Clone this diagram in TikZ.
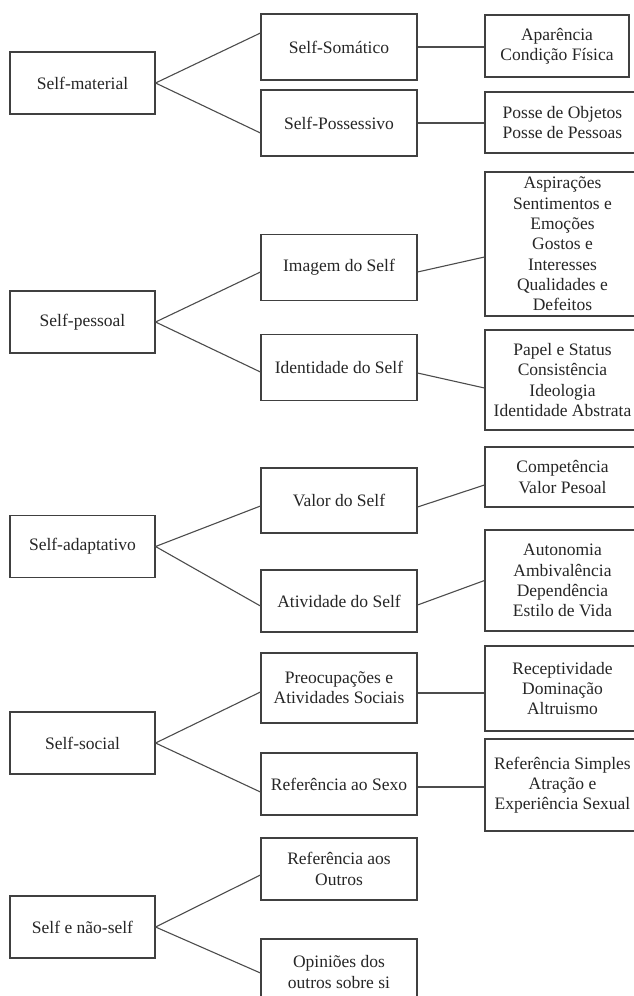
\documentclass[tikz,border=0pt]{standalone}
\usepackage{fontspec}
\setmainfont{Liberation Serif}
\usepackage{tikz}
\usetikzlibrary{calc}

\begin{document}
\begin{tikzpicture}[x=1pt,y=-1pt,
        caixa/.style={draw=black!75,line width=1.1pt,text=black!85,inner sep=0pt,align=center,font=\fontsize{17.5}{20.3}\selectfont},
        um/.style={caixa,minimum width=145,minimum height=62},
        dois/.style={caixa,minimum width=156,minimum height=66},
        tres/.style={caixa,minimum width=155},
        liga/.style={draw=black!70,line width=1.1pt}]
            \useasboundingbox (0,0) rectangle (634,996);
            \node[um] (mat) at (82.5,83) {Self-material};
            \node[um] (pes) at (82.5,322) {Self-pessoal};
            \node[um] (ada) at (82.5,546.5) {Self-adaptativo};
            \node[um] (soc) at (82.5,743) {Self-social};
            \node[um] (nao) at (82.5,927) {Self e não-self};
            \node[dois] (som) at (339,47) {Self-Somático};
            \node[dois] (pos) at (339,123) {Self-Possessivo};
            \node[dois] (ima) at (339,267.5) {Imagem do Self};
            \node[dois] (ide) at (339,367.5) {Identidade do Self};
            \node[dois,minimum height=65] (val) at (339,500.5) {Valor do Self};
            \node[dois,minimum height=62] (ati) at (339,601) {Atividade do Self};
            \node[dois,minimum height=70] (pre) at (339,688) {Preocupações e\\Atividades Sociais};
            \node[dois,minimum height=62] (sex) at (339,784) {Referência ao Sexo};
            \node[dois,minimum height=62] (out) at (339,869) {Referência aos\\Outros};
            \node[dois] (opi) at (339,972) {Opiniões dos\\outros sobre si};
            \node[tres,minimum width=144,minimum height=62] (apa) at (557,46) {Aparência\\Condição Física};
            \node[tres,minimum height=61] (obj) at (562.5,122.5) {Posse de Objetos\\Posse de Pessoas};
            \node[tres,minimum height=144] (asp) at (562.5,244) {Aspirações\\Sentimentos e\\Emoções\\Gostos e\\Interesses\\Qualidades e\\Defeitos};
            \node[tres,minimum height=100] (pap) at (562.5,380) {Papel e Status\\Consistência\\Ideologia\\Identidade Abstrata};
            \node[tres,minimum height=60] (com) at (562.5,477) {Competência\\Valor Pesoal};
            \node[tres,minimum height=101] (aut) at (562.5,580.5) {Autonomia\\Ambivalência\\Dependência\\Estilo de Vida};
            \node[tres,minimum height=85] (rec) at (562.5,688.5) {Receptividade\\Dominação\\Altruismo};
            \node[tres,minimum height=92] (sim) at (562.5,785) {Referência Simples\\Atração e\\Experiência Sexual};
            \draw[liga] ([yshift=14pt]som.west) -- (mat.east) -- ([yshift=-10pt]pos.west);
            \draw[liga] ([yshift=-4.5pt]ima.west) -- (pes.east) -- ([yshift=-4.5pt]ide.west);
            \draw[liga] ([yshift=-5.5pt]val.west) -- (ada.east) -- ([yshift=-5pt]ati.west);
            \draw[liga] ([yshift=-4pt]pre.west) -- (soc.east) -- ([yshift=-8pt]sex.west);
            \draw[liga] ([yshift=-6pt]out.west) -- (nao.east) -- ([yshift=-1pt]opi.west);
            \draw[liga] (som.east) -- (som.east -| apa.west);
            \draw[liga] (pos.east) -- (pos.east -| obj.west);
            \draw[liga] ([yshift=-4.5pt]ima.east) -- ([yshift=-13pt]asp.west);
            \draw[liga] ([yshift=-5.5pt]ide.east) -- ([yshift=-8pt]pap.west);
            \draw[liga] ([yshift=-6.5pt]val.east) -- ([yshift=-8pt]com.west);
            \draw[liga] ([yshift=-4pt]ati.east) -- (aut.west);
            \draw[liga] ([yshift=-5pt]pre.east) -- ([yshift=-5pt]pre.east -| rec.west);
            \draw[liga] ([yshift=-3pt]sex.east) -- ([yshift=-3pt]sex.east -| sim.west);
        \end{tikzpicture}
\end{document}
